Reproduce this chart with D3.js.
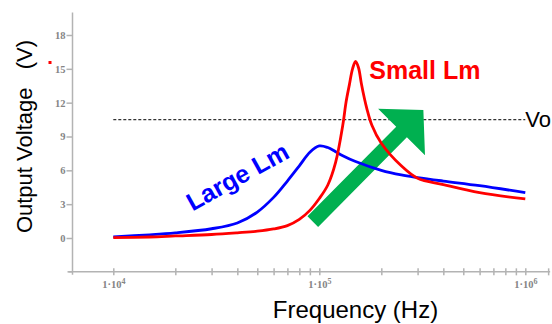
<!DOCTYPE html>
<html>
<head>
<meta charset="utf-8">
<script src="https://cdn.jsdelivr.net/npm/d3@7"></script>
<style>
    body { margin: 0; background: #fff; }
    svg { display: block; }
    .axis path, .axis line { stroke: #b3b3b3; stroke-width: 1.5; }
    .axis text { fill: #858585; font-family: "Liberation Serif", "DejaVu Serif", serif; font-weight: bold; font-size: 10.5px; }
</style>
</head>
<body>
<script>
// values
var blueFreq = [1e4, 1.5e4, 2e4, 3e4, 4e4, 5e4, 6e4, 7e4, 8e4, 9e4, 1e5, 1.1e5, 1.2e5, 1.3e5, 1.5e5, 2e5, 2.5e5, 3e5, 4e5, 6e5, 1e6];
var blueVolt = [0.1, 0.28, 0.45, 0.82, 1.33, 2.3, 3.6, 5.05, 6.4, 7.6, 8.16, 8.02, 7.65, 7.3, 6.78, 6.0, 5.59, 5.36, 5.05, 4.64, 4.02];

var redFreq = [1e4, 1.5e4, 2e4, 3e4, 4e4, 5e4, 6e4, 7e4, 8e4, 9e4, 1e5, 1.1e5, 1.2e5, 1.3e5, 1.35e5, 1.4e5, 1.45e5, 1.5e5, 1.55e5, 1.6e5, 1.65e5, 1.7e5, 1.8e5, 2e5, 2.5e5, 3e5, 4e5, 6e5, 1e6];
var redVolt = [0.03, 0.09, 0.18, 0.31, 0.46, 0.6, 0.8, 1.1, 1.65, 2.45, 3.5, 4.7, 6.7, 10.0, 12.1, 13.6, 15.0, 15.65, 15.1, 13.7, 12.5, 11.5, 10.0, 8.4, 6.4, 5.3, 4.74, 4.02, 3.46];

var yTicks = [0, 3, 6, 9, 12, 15, 18];
var xMajor = [1e4, 1e5, 1e6];
var xMinor = [2e4, 3e4, 4e4, 5e4, 6e4, 7e4, 8e4, 9e4, 2e5, 3e5, 4e5, 5e5, 6e5, 7e5, 8e5, 9e5];
var xExtent = [6300, 1.32e6];   // axis line runs a little past the decades
var yExtent = [-3, 20];

var voLevel = 10.5;             // dashed reference line "Vo"
var arrowFrom = [9.3e4, 1.45];  // green trend arrow, tail and tip
var arrowTo = [3.2e5, 11.35];

window.onload = function() {
    var w = 552, h = 324;

    var svg = d3.select("body").append("svg")
        .attr("width", w)
        .attr("height", h);

    var x = d3.scaleLog().domain([1e4, 1e6]).range([113.3, 525.3]);
    var y = d3.scaleLinear().domain([0, 18]).range([238, 35]);

    var axisX = 72.5, axisY = y(yExtent[0]);

    // y axis
    var yAxis = d3.axisLeft(y)
        .tickValues(yTicks)
        .tickSize(6)
        .tickPadding(1)
        .tickFormat(d3.format("d"));
    var gy = svg.append("g")
        .attr("class", "axis")
        .attr("transform", "translate(" + axisX + ",0)")
        .call(yAxis);
    gy.select(".domain").remove();
    gy.append("line")
        .attr("x1", 0).attr("x2", 0)
        .attr("y1", y(yExtent[1])).attr("y2", axisY + 3);
    gy.append("line")
        .attr("x1", -5).attr("x2", 0)
        .attr("y1", axisY).attr("y2", axisY);

    // x axis (ticks cross the line)
    var xAxis = d3.axisBottom(x)
        .tickValues(xMajor.concat(xMinor))
        .tickSize(3.5)
        .tickPadding(5)
        .tickFormat(function(d) { return xMajor.indexOf(d) >= 0 ? d : ""; });
    var gx = svg.append("g")
        .attr("class", "axis")
        .attr("transform", "translate(0," + axisY + ")")
        .call(xAxis);
    gx.select(".domain").remove();
    gx.append("line")
        .attr("x1", axisX - 4).attr("x2", x(xExtent[1]))
        .attr("y1", 0).attr("y2", 0);
    gx.append("line")
        .attr("x1", x(xExtent[1]) - 1.5).attr("x2", x(xExtent[1]) - 1.5)
        .attr("y1", -3.5).attr("y2", 3.5);
    gx.selectAll(".tick line").attr("y1", -3.5);

    // "1·10^n" labels
    gx.selectAll(".tick text").each(function(d) {
        var t = d3.select(this);
        if (xMajor.indexOf(d) < 0) return;
        t.text("");
        t.append("tspan").text("1\u00b710");
        t.append("tspan")
            .attr("dy", "-4")
            .style("font-size", "8px")
            .text(Math.round(Math.log10(d)));
    });

    // dashed Vo line
    svg.append("line")
        .attr("x1", x(1e4)).attr("x2", x(1e6))
        .attr("y1", y(voLevel)).attr("y2", y(voLevel))
        .style("stroke", "#333")
        .style("stroke-width", 1.3)
        .style("stroke-dasharray", "3,2");

    svg.append("text")
        .attr("x", x(1e6))
        .attr("y", y(voLevel) + 7.5)
        .style("font-family", "Liberation Sans, Arial, sans-serif")
        .style("font-size", "22px")
        .text("Vo");

    // green arrow
    var p0 = [x(arrowFrom[0]), y(arrowFrom[1])];
    var p1 = [x(arrowTo[0]), y(arrowTo[1])];
    var len = Math.hypot(p1[0] - p0[0], p1[1] - p0[1]);
    var u = [(p1[0] - p0[0]) / len, (p1[1] - p0[1]) / len];
    var n = [-u[1], u[0]];
    var headLen = 31, headW = 66, shaftW = 15;
    var base = [p1[0] - u[0] * headLen, p1[1] - u[1] * headLen];
    function off(p, k) { return [p[0] + n[0] * k, p[1] + n[1] * k]; }
    var arrowPts = [
        off(p0, shaftW / 2), off(base, shaftW / 2), off(base, headW / 2),
        p1,
        off(base, -headW / 2), off(base, -shaftW / 2), off(p0, -shaftW / 2)
    ];
    svg.append("polygon")
        .attr("points", arrowPts.map(function(p) { return p.join(","); }).join(" "))
        .style("fill", "#00b050");

    // curves
    var line = d3.line()
        .x(function(d) { return x(d[0]); })
        .y(function(d) { return y(d[1]); })
        .curve(d3.curveCatmullRom.alpha(0.5));

    svg.append("path")
        .datum(d3.zip(blueFreq, blueVolt))
        .attr("d", line)
        .style("fill", "none")
        .style("stroke", "#0000ff")
        .style("stroke-width", 2.8);

    svg.append("path")
        .datum(d3.zip(redFreq, redVolt))
        .attr("d", line)
        .style("fill", "none")
        .style("stroke", "#ff0000")
        .style("stroke-width", 2.8);

    // curve labels
    svg.append("text")
        .attr("x", 369.3)
        .attr("y", 79.3)
        .style("font-family", "Liberation Sans, Arial, sans-serif")
        .style("font-weight", "bold")
        .style("font-size", "25px")
        .style("fill", "#ff0000")
        .text("Small Lm");

    svg.append("text")
        .attr("transform", "translate(241.7,184.2) rotate(-29)")
        .attr("text-anchor", "middle")
        .style("font-family", "Liberation Sans, Arial, sans-serif")
        .style("font-weight", "bold")
        .style("font-size", "25px")
        .style("fill", "#0000ff")
        .text("Large Lm");

    // stray red mark next to the y axis
    svg.append("rect")
        .attr("x", 48.5).attr("y", 61)
        .attr("width", 3).attr("height", 3)
        .style("fill", "#ff0000");

    // axis titles
    svg.append("text")
        .attr("transform", "translate(32,136.5) rotate(-90)")
        .attr("text-anchor", "middle")
        .style("font-family", "Liberation Sans, Arial, sans-serif")
        .style("font-size", "22px")
        .style("white-space", "pre")
        .text("Output Voltage   (V)");

    svg.append("text")
        .attr("x", 355.5)
        .attr("y", 318)
        .attr("text-anchor", "middle")
        .style("font-family", "Liberation Sans, Arial, sans-serif")
        .style("font-size", "24px")
        .text("Frequency (Hz)");
};
</script>
</body>
</html>
